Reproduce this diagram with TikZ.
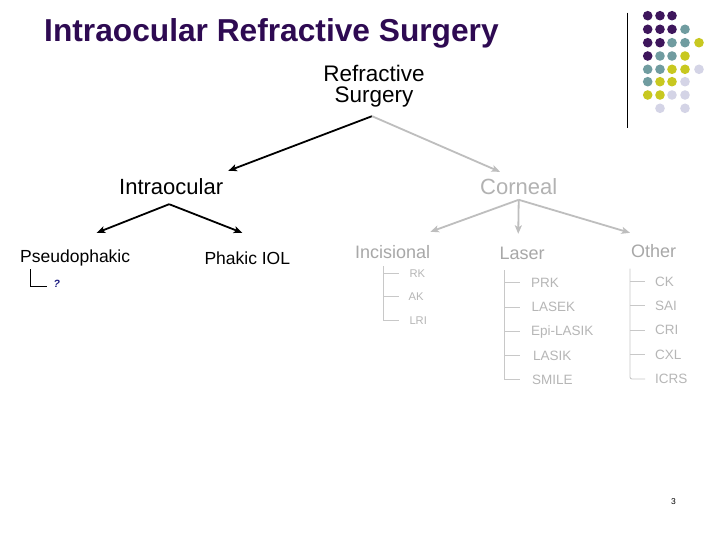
\documentclass[tikz,border=0pt]{standalone}
\usepackage{fontspec}
\setmainfont{Liberation Sans}
\usetikzlibrary{arrows.meta,calc}
\definecolor{titlepurple}{RGB}{46,10,82}
\definecolor{dotpurple}{RGB}{62,22,92}
\definecolor{dotteal}{RGB}{112,156,160}
\definecolor{dotyellow}{RGB}{200,200,32}
\definecolor{dotlav}{RGB}{212,212,230}
\definecolor{arrgray}{RGB}{190,190,190}
\definecolor{headgray}{RGB}{178,178,178}
\definecolor{subgray}{RGB}{168,168,168}
\definecolor{itemgray}{RGB}{182,182,182}
\definecolor{linegray}{RGB}{200,200,200}
\definecolor{qblue}{RGB}{30,30,130}
\begin{document}
\begin{tikzpicture}[x=1pt,y=-1pt,
  titlestyle/.style={inner sep=0pt, anchor=base west, text=titlepurple,
    font=\fontsize{31.7}{38}\selectfont\bfseries},
  refrstyle/.style={inner sep=0pt, align=center, font=\fontsize{22.5}{21}\selectfont},
  big/.style={inner sep=0pt, anchor=base west, text height=16pt, text depth=4.6pt,
    font=\fontsize{22}{26}\selectfont},
  mid/.style={inner sep=0pt, anchor=base west, text height=12.6pt, text depth=3.7pt,
    font=\fontsize{17.5}{21}\selectfont},
  subh/.style={inner sep=0pt, anchor=base west, text height=13pt, text depth=3.8pt,
    text=subgray, font=\fontsize{18}{21}\selectfont},
  itemA/.style={inner sep=0pt, anchor=west, text height=7.9pt, text depth=0pt,
    text=itemgray, font=\fontsize{11.2}{13}\selectfont},
  itemB/.style={inner sep=0pt, anchor=west, text height=9.7pt, text depth=0pt,
    text=itemgray, font=\fontsize{13.5}{16}\selectfont},
  blackarr/.style={draw=black, line width=1.8pt, -{Stealth[length=8.5pt,width=7pt,inset=2pt]}},
  grayarr/.style={draw=arrgray, line width=1.8pt, -{Stealth[length=8.5pt,width=7pt,inset=2pt]}},
  tree/.style={draw=linegray, line width=0.9pt}
]
\useasboundingbox[fill=white] (0,0) rectangle (720,540);

% title and decoration
\node[titlestyle] (title) at (44,41.7) {Intraocular Refractive Surgery};
\draw[black, line width=1pt] (627.3,12.7) -- (627.3,128);
\foreach \c/\x/\y in {
  dotpurple/647.7/15.7, dotpurple/660/15.7, dotpurple/672/15.7,
  dotpurple/647.7/29.3, dotpurple/660/29.3, dotpurple/672/29.3, dotteal/685/29.3,
  dotpurple/647.7/42.7, dotpurple/660/42.7, dotteal/672/42.7, dotteal/685/42.7, dotyellow/699/42.7,
  dotpurple/647.7/56, dotteal/660/56, dotteal/672/56, dotyellow/685/56,
  dotteal/647.7/69.3, dotteal/660/69.3, dotyellow/672/69.3, dotyellow/685/69.3, dotlav/699/69.3,
  dotteal/647.7/81.7, dotyellow/660/81.7, dotyellow/672/81.7, dotlav/685/81.7,
  dotyellow/647.7/95, dotyellow/660/95, dotlav/672/95, dotlav/685/95,
  dotlav/660/108.3, dotlav/685/108.3}
  \fill[\c] (\x,\y) circle (4.8pt);

% main labels
\node[refrstyle] (refr) at (374,86.4) {Refractive\\Surgery};
\node[big] (intra) at (119,195) {Intraocular};
\node[big, text=headgray] (corn) at (480,195) {Corneal};
\node[mid] (pseudo) at (20,262.3) {Pseudophakic};
\node[mid] (phakic) at (204.3,264.3) {Phakic IOL};
\node[subh] (incis) at (355,258.3) {Incisional};
\node[subh] (laser) at (499.3,259.3) {Laser};
\node[subh] (other) at (631,257.7) {Other};

% arrows
\coordinate (rsapex) at ($(refr.south)+(-2,8.6)$);
\draw[blackarr] (rsapex) -- ($(intra.north east)+(5,-8)$);
\draw[grayarr] (rsapex) -- ($(corn.north west)+(20,-7)$);
\coordinate (inapex) at ($(intra.south)+(-2,4.4)$);
\draw[blackarr] (inapex) -- ($(pseudo.north)+(21.5,-16.7)$);
\draw[blackarr] (inapex) -- ($(phakic.north)+(-5,-18.7)$);
\coordinate (coapex) at (corn.south);
\draw[grayarr] (coapex) -- ($(incis.north east)+(0,-13.3)$);
\draw[grayarr] (coapex) -- ($(laser.north)+(-3.8,-12.3)$);
\draw[grayarr] (coapex) -- ($(other.north west)+(-1,-11.7)$);

% pseudophakic bracket
\node[inner sep=0pt, anchor=base west, text=qblue, font=\fontsize{10.5}{12}\selectfont\itshape\bfseries] (q) at (53.3,287.3) {?};
\coordinate (qv) at ($(pseudo.south west)+(10.7,3)$);
\draw[black, line width=0.8pt] (qv) |- ($(q.base west)+(-6.6,-1.3)$);

% incisional
\node[itemA] (rk) at (409.3,273.8) {RK};
\node[itemA] (ak) at (408.5,296.8) {AK};
\node[itemA] (lri) at (409.3,320.2) {LRI};
\coordinate (incv) at ($(incis.south west)+(28.3,3.9)$);
\draw[tree] (incv) |- ($(incv |- lri.west)+(16,0)$);
\foreach \n in {rk,ak} \draw[tree] (incv |- \n.west) -- ++(16,0);

% laser
\node[itemB] (prk) at (531,282.6) {PRK};
\node[itemB] (lasek) at (531.5,307) {LASEK};
\node[itemB] (epi) at (531,331) {Epi-LASIK};
\node[itemB] (lasik) at (533,355.5) {LASIK};
\node[itemB] (smile) at (532,379.3) {SMILE};
\coordinate (lasv) at ($(laser.south west)+(5,6.9)$);
\draw[tree] (lasv) |- ($(lasv |- smile.west)+(15.7,0)$);
\foreach \n in {prk,lasek,epi,lasik} \draw[tree] (lasv |- \n.west) -- ++(15.7,0);

% other
\node[itemB] (ck) at (655,281.8) {CK};
\node[itemB] (sai) at (655,305.8) {SAI};
\node[itemB] (cri) at (655,330) {CRI};
\node[itemB] (cxl) at (655,354.5) {CXL};
\node[itemB] (icrs) at (655,379) {ICRS};
\coordinate (othv) at ($(other.south west)+(-1,6.8)$);
\draw[tree, rounded corners=2pt] (othv) |- ($(othv |- icrs.west)+(15,0)$);
\foreach \n in {ck,sai,cri,cxl} \draw[tree] (othv |- \n.west) -- ++(15,0);

% page number
\node[inner sep=0pt, anchor=base west, font=\fontsize{8.5}{10}\selectfont] (pg) at (671,504) {3};
\end{tikzpicture}
\end{document}
